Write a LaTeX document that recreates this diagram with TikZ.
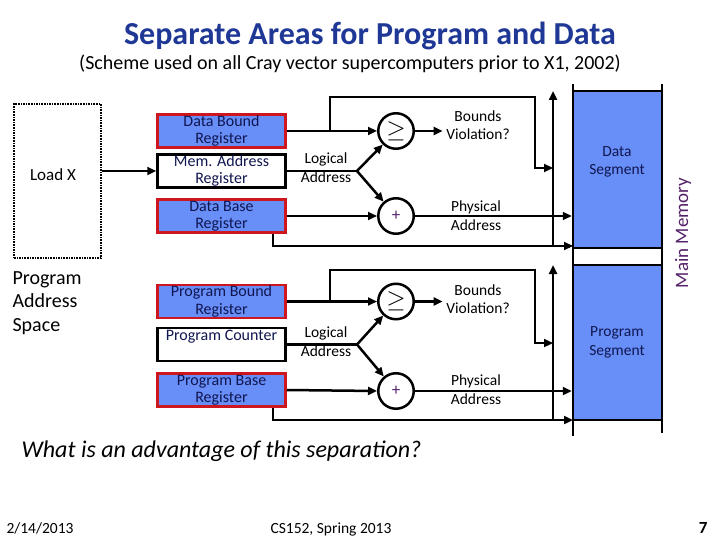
\documentclass[tikz,border=0pt]{standalone}
\usepackage{fontspec}
\setmainfont{Carlito}
\usetikzlibrary{arrows.meta}
\definecolor{regblue}{RGB}{104,142,248}
\definecolor{regred}{RGB}{206,22,30}
\definecolor{titleblue}{RGB}{31,56,150}
\definecolor{navy}{RGB}{16,22,80}
\definecolor{memtext}{RGB}{84,34,104}
\tikzset{
  reg/.style={draw=regred, fill=regblue, line width=2.5pt, minimum width=128pt,
    minimum height=33pt, inner sep=0pt, align=center, text=navy,
    font=\fontsize{16}{17.5}\selectfont},
  ptr/.style={reg, draw=black, fill=white},
  op/.style={circle, draw, line width=2.5pt, minimum size=35.5pt, inner sep=0pt},
  lbl/.style={align=center, font=\fontsize{15.5}{18.5}\selectfont},
  seg/.style={draw, fill=regblue, line width=2.5pt, minimum width=89pt, inner sep=0pt},
  foot/.style={anchor=base, font=\fontsize{15.5}{18}\selectfont},
  wire/.style={line width=2.5pt},
}
\begin{document}
\begin{tikzpicture}[x=1pt, y=-1pt, >={Triangle[length=9pt,width=8pt]}]
  \useasboundingbox (0,0) rectangle (720,540);
  \node[text=titleblue, font=\fontsize{32}{38}\selectfont\bfseries] (title) at (370,36)
    {Separate Areas for Program and Data};
  \node[font=\fontsize{20}{24}\selectfont] (sub) at (350,64)
    {(Scheme used on all Cray vector supercomputers prior to X1, 2002)};

  \node[draw, line width=2pt, dash pattern=on 1.6pt off 1pt, minimum width=87pt,
    minimum height=154pt] (space) at (57.5,181) {};
  \node[font=\fontsize{17}{20}\selectfont] (loadx) at (53,175) {Load X};
  \node[anchor=north west, align=left, font=\fontsize{20}{23.5}\selectfont] (pas) at (9,268)
    {Program\\Address\\Space};

  \node[reg] (dbound) at (221.5,131) {Data Bound\\Register};
  \node[ptr] (mar) at (221.5,171) {Mem. Address\\Register};
  \node[reg] (dbase) at (221.5,216) {Data Base\\Register};
  \node[reg] (pbound) at (221.5,301.5) {Program Bound\\Register};
  \node[ptr] (pc) at (221.5,344.5) {Program Counter\\\mbox{}};
  \node[reg] (pbase) at (221.5,390) {Program Base\\Register};

  \node[op, font=\fontsize{27}{27}\selectfont] (ge1) at (396,131) {$\geq$};
  \node[op, text=memtext, font=\fontsize{17}{17}\selectfont] (add1) at (396,216) {+};
  \node[op, font=\fontsize{27}{27}\selectfont] (ge2) at (396,301.5) {$\geq$};
  \node[op, text=memtext, font=\fontsize{17}{17}\selectfont] (add2) at (396,391) {+};

  \node[lbl] (la1txt) at (326,167.5) {Logical\\Address};
  \node[lbl] (bv1) at (478,125) {Bounds\\Violation?};
  \node[lbl] (pa1) at (476,215.5) {Physical\\Address};
  \node[lbl] (la2txt) at (326,341.5) {Logical\\Address};
  \node[lbl] (bv2) at (478,299) {Bounds\\Violation?};
  \node[lbl] (pa2) at (476,389.5) {Physical\\Address};

  \node[seg, minimum height=157pt] (dseg) at (617.5,169.5) {};
  \node[seg, minimum height=155pt] (pseg) at (617.5,342.5) {};
  \draw[wire] (573,84) -- (573,436);
  \draw[wire] (662,84) -- (662,433);
  \node[lbl, text=navy] (dtxt) at (617,162) {Data\\Segment};
  \node[lbl, text=navy] (ptxt) at (617,342.5) {Program\\Segment};
  \node[rotate=90, text=memtext, font=\fontsize{19}{19}\selectfont] (mm) at (683,233) {Main Memory};

  \coordinate (la1) at (357,171);
  \coordinate (br1) at (330,131);
  \coordinate (tp1) at (535,97);
  \coordinate (up1) at (553,168);
  \coordinate (dv1) at (553,246);
  \coordinate (dt1) at (553,91);
  \coordinate (dlo) at (573,246);
  \coordinate (la2) at (357,344.5);
  \coordinate (br2) at (330,301.5);
  \coordinate (tp2) at (535,270);
  \coordinate (up2) at (553,343);
  \coordinate (dv2) at (553,420);
  \coordinate (dt2) at (553,265);
  \coordinate (plo) at (573,420);

  \begin{scope}[wire]
    \draw[->] (space.east |- mar) -- (mar.west);
    \draw[->] (dbound.east) -- (ge1.west);
    \draw[->] (br1) |- (tp1) |- (up1);
    \draw (mar.east) -- (la1);
    \draw[->] (la1) -- (ge1);
    \draw[->] (la1) -- (add1);
    \draw[->] (dbase.east) -- (add1.west);
    \draw[->] (ge1.east) -- (ge1.east -| bv1.west);
    \draw[->] (add1.east) -- (add1 -| dseg.west);
    \draw[->] ([xshift=-14pt]dbase.south east) |- (dlo);
    \draw[->] (dv1) -- (dt1);
    \draw[->] (pbound.east) -- (ge2.west);
    \draw[->] (br2) |- (tp2) |- (up2);
    \draw (pc.east) -- (la2);
    \draw[->] (la2) -- (ge2);
    \draw[->] (la2) -- (add2);
    \draw[->] (pbase.east) -- (add2.west);
    \draw[->] (ge2.east) -- (ge2.east -| bv2.west);
    \draw[->] (add2.east) -- (add2 -| pseg.west);
    \draw[->] ([xshift=-14pt]pbase.south east) |- (plo);
    \draw[->] (dv2) -- (dt2);
  \end{scope}

  \node[anchor=west, font=\fontsize{24}{28}\selectfont\itshape] (quest) at (18,451)
    {What is an advantage of this separation?};
  \node[foot, anchor=base west] (date) at (3,533) {2/14/2013};
  \node[foot] (course) at (331,533) {CS152, Spring 2013};
  \node[foot, anchor=base east, font=\fontsize{17}{19}\selectfont\bfseries] (page) at (711,533) {7};
\end{tikzpicture}
\end{document}
